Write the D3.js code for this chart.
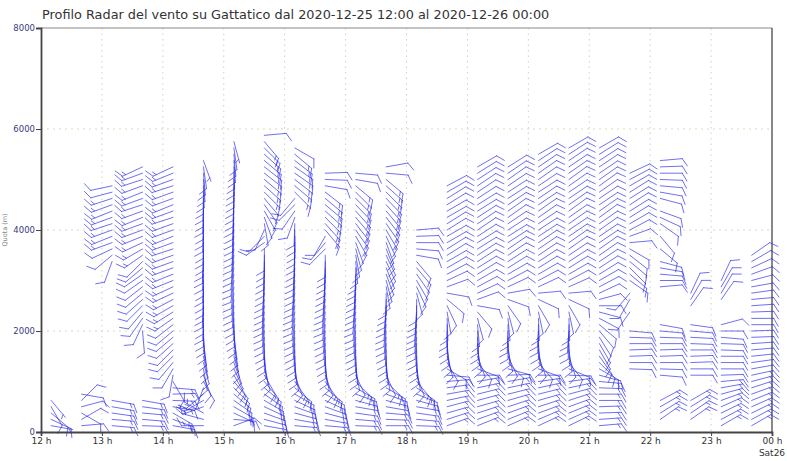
<!DOCTYPE html>
<html><head><meta charset="utf-8">
<script src="https://cdn.jsdelivr.net/npm/d3@7"></script>
<style>
html,body{margin:0;padding:0;background:#fff;}
svg{display:block;}
</style></head>
<body><svg id="chart" width="787" height="461"></svg>
<script>
// Wind profiler soundings, Gattatico, 2020-12-25 12:00 -> 2020-12-26 00:00
const n = null;

const profileTimes = ["2020-12-25 12:10","2020-12-25 12:40","2020-12-25 13:10","2020-12-25 13:40",
  "2020-12-25 14:10","2020-12-25 14:40","2020-12-25 15:10","2020-12-25 15:40",
  "2020-12-25 16:10","2020-12-25 16:40","2020-12-25 17:10","2020-12-25 17:40",
  "2020-12-25 18:10","2020-12-25 18:40","2020-12-25 19:10","2020-12-25 19:40",
  "2020-12-25 20:10","2020-12-25 20:40","2020-12-25 21:10","2020-12-25 21:40",
  "2020-12-25 22:10","2020-12-25 22:40","2020-12-25 23:10","2020-12-25 23:40"];

// range gate heights (m)
const gates = [125,250,375,500,625,750,875,1000,1125,1250,1375,1500,1625,1750,1875,2000,
  2125,2250,2375,2500,2625,2750,2875,3000,3125,3250,3375,3500,3625,3750,3875,4000,
  4125,4250,4375,4500,4625,4750,4875,5000,5125,5250,5375,5500,5625,5750,5875,6000];

const yTickValues = [0, 2000, 4000, 6000, 8000];
const hourTicks = ["2020-12-25 12:00","2020-12-25 13:00","2020-12-25 14:00","2020-12-25 15:00",
  "2020-12-25 16:00","2020-12-25 17:00","2020-12-25 18:00","2020-12-25 19:00","2020-12-25 20:00",
  "2020-12-25 21:00","2020-12-25 22:00","2020-12-25 23:00","2020-12-26 00:00"];
const hourLabels = ["12 h","13 h","14 h","15 h","16 h","17 h","18 h","19 h","20 h","21 h","22 h","23 h","00 h"];

// barb direction (deg) per gate, one row per profile
const directions = [
  [100,115,130,150,140],
  [85,60,120,75,45,100],
  [95,95,98,100,100, n,n,n,n,n,n,n,n,n,n,n,n,n,n,n,n,n,n,n,n,n, 200,230,245, 250,248,250,252,250,248,250,252,255,258],
  [92,95,95,98,100, n,n,n,n,n,n,n,n,n,n, 175,205,215,220, 225,228,230,232,235,235,230,225, 235,240,245,248,250,250,248,250,252,250,248,250,252,250,245],
  [100,110,120,100,92,88,95, 150,190,210,220,225,225,228,230,230,232, 235,238,240,242,245,245,248,248,250,250,250,252,250,248,250,250,252,250,248,250,250,252,250,248,245],
  [270,285,300,250,240,230,200, 150,160,170, 165,168,170,172,175,178, 180,182,180,183,182,180,181,182,180,182,183,182,180,181,180,182,181,180,182,180,181,180,178,176,175,172, 160],
  [70,95,115,120,125,130,135,140, 150,155,160, 165,168,170,172,175,178,180,182,184,185, 186,187,188,188,188,187,186,186,185,185,184,184,183,183,182,182,181,180,180,179, 178,176,175,172,165],
  [100,105,110,115,120,125,130,140,150, 165,170,175,178,180,182,184,185,186,186,186,185,185,184,183,182,182,181,180,180, 235,225,205, 170,160,150,145,140, 135,132,130,128,128,130,132,135,140, 85],
  [95,100,105,110,115,120,130,145,160, 170,175,178,180,182,184,185,186,187,188,188,188,187,186,185,185,184,183,182,182,181,180,180,182, 200,215,225,220, 135,130,128,125,125,128,130,120],
  [95,100,105,110,115,120,130,145,160, 170,175,178,180,182,184,185,186,187,188,188,187,186,185,184,183,182,181,180, 225,220,210, 140,138,135,132,130,130,128, 100,92,88],
  [92,95,98,100,105,110,120,135,155, 170,175,178,180,182,184,185,186,187,188,187,186,185,184,183,182,180, 175,170,165,160, 150,145,142,140,138,136,135,135,130, 100,95],
  [90,92,95,100,105,110,120,135,155, 170,175,178,180,182,184,185,186,186,185,184,182,180, 170,165,160,158,155,155,158,160,155, 150,145,142,140,138,136,135,132,130, 95,80],
  [92,95,98,100,105,112,125,140,160, 170,175,178,180,182,184,185,186,185,184,182,180, 165,155,150,145,140,140, 100,95,90,88,85],
  [70,72,74,75,78,80,82,85,95,120, 150,165,170,175,178,180,180,178,170,155,130,100, 70,65,62,60,60,58,58,60,60,58,58,60,60,58,58,60,62],
  [68,70,72,74,75,76,78,80,90,110, 140,160,170,175,178,178,175,165,140,100, 70,65,62,60,58,58,57,57,58,58,57,56,56,57,58,58,57,56,56,57,58,60],
  [66,68,70,72,74,76,78,80,88,105, 135,155,168,175,180,182,180,175,165,145,110,80, 65,62,60,58,57,56,56,57,58,57,56,55,55,56,57,57,56,55,56,58],
  [65,67,70,72,74,76,78,82,90,110, 140,160,170,176,180,182,182,178,168,150,115,85, 65,62,60,58,57,56,56,56,57,57,56,55,55,56,56,57,56,55,55,56,57,60],
  [64,66,68,70,72,75,78,82,92,112, 142,162,172,178,182,184,182,178,168,150,115,85, 66,62,60,58,57,56,55,55,56,56,55,55,54,55,56,56,55,54,55,56,56,57,60],
  [85,86,88,88,90,90,92,95,105, 120,135,145,150,150,148,140,130,118,105,90,75, 65,62,60,58,57,56,55,55,56,56,55,55,54,55,56,56,55,54,55,56,56,57,58,60],
  [n,n,n,n,n,n,n,n,n, 92,90,88,88,90,92,95, n, n,215,n,210,220,n, 125,130,135,130,128,120, 85,70,62,60,58,58,57,58,58,60,62,65],
  [n,55,58,60,62, n,n,n, 95,92,90,88,88,90,92,95,100, n,n,n,n,n, 85,90,95,100,105,n,130, n,140,n,125,115,110,n,105,100,95,92,90,88,85],
  [n,55,56,58,60, n,n,n, 90,90,88,88,90,92,93,95,98, n,n, 35,30,25],
  [60,62,64,66,70,75,80,85,88,90,90,90,92,92,95,90,75, n,n,n, 35,30,30,25],
  [60,62,64,66,68,70,72,75,78,80,82,84,85,86,88,88,90,90,88,86,85,82,80,75,70,65,60,55]
];

// wind speed (kt) per gate, same layout as the directions
const speeds = [
  [5,10,10,10,5],
  [10,10,10,10,10,10],
  [15,15,15,15,15, 0,0,0,0,0,0,0,0,0,0,0,0,0,0,0,0,0,0,0,0,0, 10,10,10, 15,15,15,15,15,15,15,15,10,10],
  [15,15,15,15,15, 0,0,0,0,0,0,0,0,0,0, 10,10,10,10, 10,10,10,10,10,10,10,10, 15,15,15,15,15,15,15,15,15,15,15,15,15,15,15],
  [15,15,15,15,15,15,15, 10,10,10,10,10,10,10,10,10,10, 15,15,15,15,15,15,15,15,15,15,15,15,15,15,15,15,15,15,15,15,15,15,15,15,15],
  [15,15,15,15,15,15,10, 10,10,10, 10,10,10,10,10,10, 10,10,10,10,10,10,10,10,10,10,10,10,10,10,10,10,10,10,10,10,10,10,10,10,10,10, 5],
  [10,15,15,15,15,15,15,15, 10,10,10, 10,10,10,10,10,10,10,10,10,10, 10,10,10,10,10,10,10,10,10,10,10,10,10,10,10,10,10,10,10,10, 10,10,10,10,5],
  [15,15,15,15,15,15,15,15,10, 10,10,10,10,10,10,10,10,10,10,10,10,10,10,10,10,10,10,10,10, 10,10,10, 10,10,10,10,10, 15,15,15,15,15,15,15,15,15, 10],
  [15,15,15,15,15,15,15,15,10, 10,10,10,10,10,10,10,10,10,10,10,10,10,10,10,10,10,10,10,10,10,10,10,10, 10,10,10,10, 15,15,15,15,15,15,15,10],
  [15,15,15,15,15,15,15,15,10, 10,10,10,10,10,10,10,10,10,10,10,10,10,10,10,10,10,10,10, 10,10,10, 15,15,15,15,15,15,15, 10,10,10],
  [15,15,15,15,15,15,15,15,10, 10,10,10,10,10,10,10,10,10,10,10,10,10,10,10,10,10, 10,10,10,10, 15,15,15,15,15,15,15,15,15, 10,10],
  [15,15,15,15,15,15,15,15,10, 10,10,10,10,10,10,10,10,10,10,10,10,10, 10,10,10,10,10,10,10,10,10, 15,15,15,15,15,15,15,15,15, 10,10],
  [15,15,15,15,15,15,15,15,10, 10,10,10,10,10,10,10,10,10,10,10,10, 10,10,10,10,10,10, 10,10,10,10,10],
  [15,15,15,15,15,15,15,15,10,10, 10,10,10,10,10,10,10,10,10,10,10,10, 10,10,10,10,10,10,10,10,10,10,10,10,10,10,10,10,10],
  [15,15,15,15,15,15,15,15,10,10, 10,10,10,10,10,10,10,10,10,10, 10,10,10,10,10,10,10,10,10,10,10,10,10,10,10,10,10,10,10,10,10,10],
  [15,15,15,15,15,15,15,15,10,10, 10,10,10,10,10,10,10,10,10,10,10,10, 10,10,10,10,10,10,10,10,10,10,10,10,10,10,10,10,10,10,10,10],
  [15,15,15,15,15,15,15,15,10,10, 10,10,10,10,10,10,10,10,10,10,10,10, 10,10,10,10,10,10,10,10,10,10,10,10,10,10,10,10,10,10,10,10,10,10],
  [15,15,15,15,15,15,15,15,10,10, 10,10,10,10,10,10,10,10,10,10,10,10, 10,10,10,10,10,10,10,10,10,10,10,10,10,10,10,10,10,10,10,10,10,10,10],
  [15,15,15,15,15,15,15,15,10, 10,10,10,10,10,10,10,10,10,10,10,10, 10,10,10,10,10,10,10,10,10,10,10,10,10,10,10,10,10,10,10,10,10,10,10,10],
  [0,0,0,0,0,0,0,0,0, 10,10,10,10,10,10,10, 0, 0,10,0,10,10,0, 10,10,10,10,10,10, 10,10,10,10,10,10,10,10,10,10,10,10],
  [0,15,15,15,15, 0,0,0, 10,10,10,10,10,10,10,10,10, 0,0,0,0,0, 10,10,10,10,10,0,10, 0,10,0,10,10,10,0,10,10,10,10,10,10,10],
  [0,15,15,15,15, 0,0,0, 10,10,10,10,10,10,10,10,10, 0,0, 10,10,10],
  [15,15,15,15,15,15,15,15,10,10,10,10,10,10,10,10,10, 0,0,0, 10,10,10,10],
  [15,15,15,15,15,15,15,15,15,10,10,10,10,10,10,10,10,10,10,10,10,10,10,10,10,10,10,10]
];

const W = 787, H = 461;
const margin = {left: 41, right: 15, top: 28, bottom: 29};
const parse = d3.timeParse("%Y-%m-%d %H:%M");

const svg = d3.select("#chart");

const x = d3.scaleTime()
  .domain([parse("2020-12-25 12:00"), parse("2020-12-26 00:00")])
  .range([margin.left, W - margin.right]);
const y = d3.scaleLinear().domain([0, 8000]).range([H - margin.bottom, margin.top]);

// title
svg.append("text")
  .attr("x", 42).attr("y", 19)
  .attr("font-family", "DejaVu Sans, sans-serif")
  .attr("font-size", 12.85).attr("fill", "#333")
  .text("Profilo Radar del vento su Gattatico dal 2020-12-25 12:00 al 2020-12-26 00:00");

// axis title, tucked against the left edge
svg.append("text")
  .attr("transform", `translate(7,230) rotate(-90)`)
  .attr("text-anchor", "middle")
  .attr("font-family", "DejaVu Sans, sans-serif")
  .attr("font-size", 6.5).attr("fill", "#888")
  .text("Quota (m)");

// grid
const grid = svg.append("g");
grid.selectAll("line.v").data(hourTicks.slice(1, -1)).join("line")
  .attr("x1", d => x(parse(d))).attr("x2", d => x(parse(d)))
  .attr("y1", y(8000)).attr("y2", y(0))
  .attr("stroke", "#cfcfcf").attr("stroke-width", 1).attr("stroke-dasharray", "1.5,4");
grid.selectAll("line.h").data(yTickValues.slice(1, -1)).join("line")
  .attr("x1", x.range()[0]).attr("x2", x.range()[1])
  .attr("y1", d => y(d)).attr("y2", d => y(d))
  .attr("stroke", "#d9d6b8").attr("stroke-width", 1).attr("stroke-dasharray", "2,4");

// frame (top and right)
svg.append("line").attr("x1", x.range()[0]).attr("x2", x.range()[1])
  .attr("y1", y(8000)).attr("y2", y(8000)).attr("stroke", "#8a8a8a").attr("stroke-width", 1.2);
svg.append("line").attr("x1", x.range()[1]).attr("x2", x.range()[1])
  .attr("y1", y(8000)).attr("y2", y(0)).attr("stroke", "#555").attr("stroke-width", 1.4);

// wind barbs
const STAFF = 22, TICK = 9, SPACE = 3.5, TURN = 60;
function barbPath(x0, y0, dir, spd) {
  const a = dir * Math.PI / 180;
  const ux = Math.sin(a), uy = -Math.cos(a);
  const x1 = x0 + STAFF * ux, y1 = y0 + STAFF * uy;
  const ta = (dir + TURN) * Math.PI / 180;
  const tx = Math.sin(ta), ty = -Math.cos(ta);
  let p = `M${x0.toFixed(2)},${y0.toFixed(2)}L${x1.toFixed(2)},${y1.toFixed(2)}`;
  let rem = Math.round(spd / 5) * 5, k = 0;
  while (rem >= 10) {
    const bx = x1 - k * SPACE * ux, by = y1 - k * SPACE * uy;
    p += `M${bx.toFixed(2)},${by.toFixed(2)}l${(TICK * tx).toFixed(2)},${(TICK * ty).toFixed(2)}`;
    rem -= 10; k++;
  }
  if (rem >= 5) {
    const kk = k === 0 ? 1 : k;
    const bx = x1 - kk * SPACE * ux, by = y1 - kk * SPACE * uy;
    p += `M${bx.toFixed(2)},${by.toFixed(2)}l${(TICK * 0.5 * tx).toFixed(2)},${(TICK * 0.5 * ty).toFixed(2)}`;
  }
  return p;
}

const barbs = [];
profileTimes.forEach((t, i) => {
  const row = directions[i];
  row.forEach((dir, g) => {
    if (dir === null || dir === undefined) return;
    barbs.push({time: parse(t), h: gates[g], dir, spd: speeds[i][g]});
  });
});

svg.append("g")
  .attr("fill", "none").attr("stroke", "#2b2be6").attr("stroke-width", 0.8)
  .attr("stroke-opacity", 0.85).attr("stroke-linecap", "round")
  .selectAll("path").data(barbs).join("path")
  .attr("d", d => barbPath(x(d.time), y(d.h), d.dir, d.spd));

// axes
const yAxis = svg.append("g").attr("transform", `translate(${margin.left},0)`)
  .call(d3.axisLeft(y).tickValues(yTickValues).tickSize(5).tickPadding(1).tickFormat(d3.format("d")));
yAxis.select(".domain").attr("stroke", "#444").attr("stroke-width", 1.8);
yAxis.selectAll(".tick line").attr("stroke", "#444");
yAxis.selectAll("text").attr("font-family", "DejaVu Sans, sans-serif").attr("font-size", 8.5).attr("fill", "#3a3a80");

const xAxis = svg.append("g").attr("transform", `translate(0,${y(0)})`)
  .call(d3.axisBottom(x).tickValues(hourTicks.map(parse)).tickSize(4).tickPadding(2)
    .tickFormat((d, i) => hourLabels[i]));
xAxis.select(".domain").attr("stroke", "#444").attr("stroke-width", 1.8);
xAxis.selectAll(".tick line").attr("stroke", "#444");
xAxis.selectAll("text").attr("font-family", "DejaVu Sans, sans-serif").attr("font-size", 9).attr("fill", "#333");

svg.append("text")
  .attr("x", x(parse("2020-12-26 00:00"))).attr("y", 456)
  .attr("text-anchor", "middle")
  .attr("font-family", "DejaVu Sans, sans-serif").attr("font-size", 9).attr("fill", "#333")
  .text("Sat26");
</script>
</body></html>
